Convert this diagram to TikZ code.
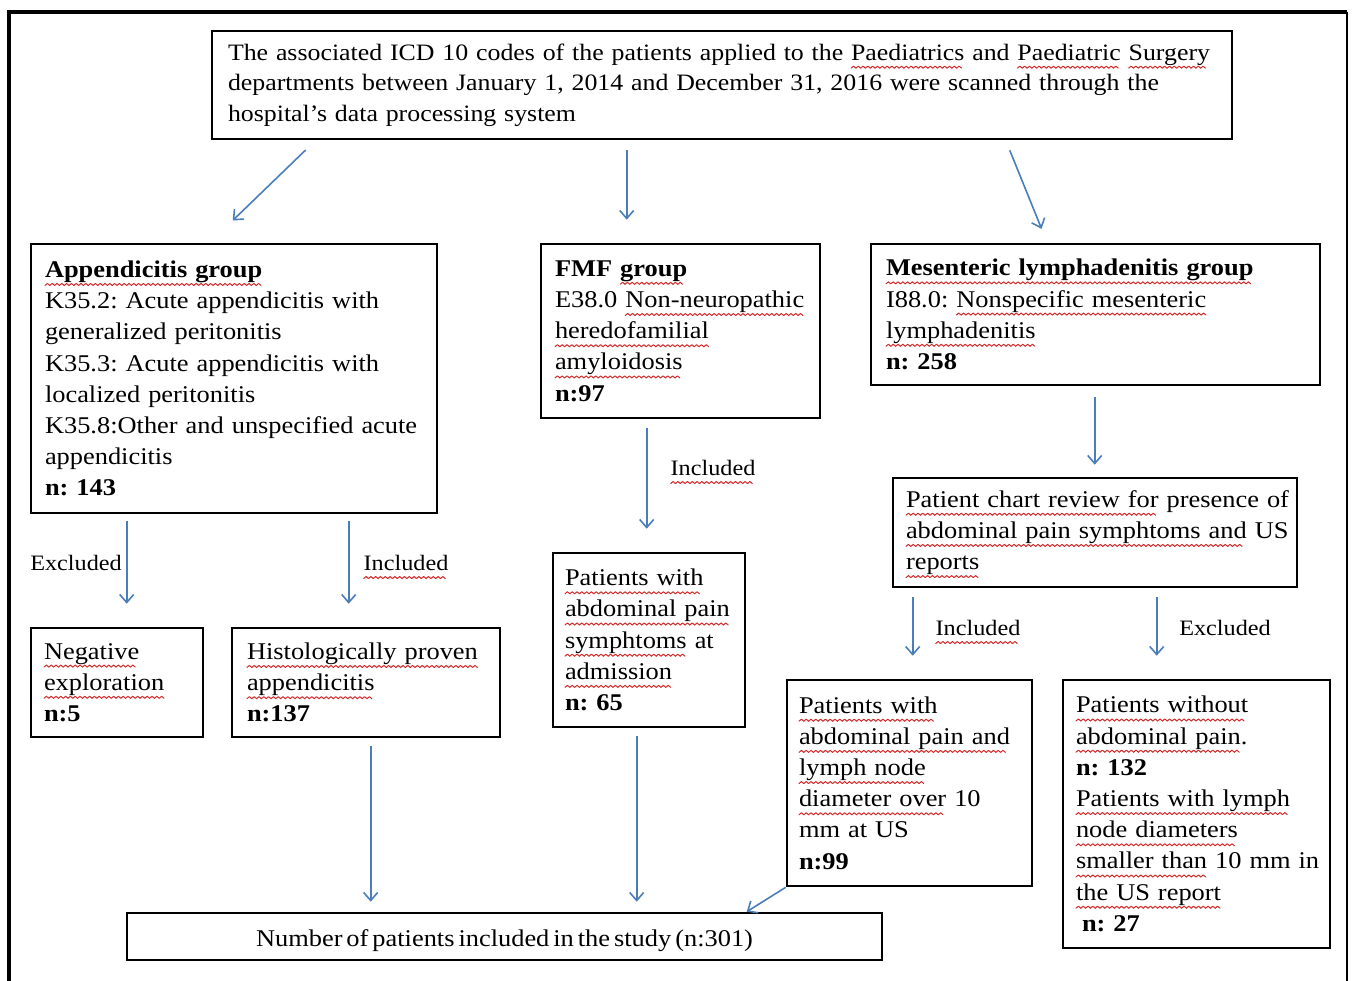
\documentclass[tikz,border=0pt]{standalone}
\usepackage{fontspec}
\setmainfont{Liberation Serif}[FakeStretch=1.1,WordSpace=0.6]
\usetikzlibrary{arrows.meta,calc}
\definecolor{arrblue}{HTML}{4A7EBB}
\definecolor{sqred}{HTML}{D42A2A}
\newcommand\rsk{\rightskip=-12pt plus 1fil\relax}
\newsavebox\wavebox
\newsavebox\sqtmp
\newcommand\sq[1]{\leavevmode\sbox\sqtmp{#1}\rlap{\raisebox{-4pt}[0pt][0pt]{\leaders\copy\wavebox\hskip\wd\sqtmp}}\usebox\sqtmp}
\begin{document}
\frenchspacing
\sbox\wavebox{\begin{pgfpicture}%
  \pgfpathrectanglecorners{\pgfpoint{0pt}{0pt}}{\pgfpoint{2.4pt}{0pt}}%
  \pgfusepath{use as bounding box}%
  \pgfsetlinewidth{0.5pt}\pgfsetstrokecolor{sqred}%
  \pgfsetroundcap\pgfsetroundjoin
  \pgfpathmoveto{\pgfpoint{0pt}{0pt}}%
  \pgfpathlineto{\pgfpoint{1.2pt}{1pt}}%
  \pgfpathlineto{\pgfpoint{2.4pt}{0pt}}%
  \pgfusepath{stroke}%
\end{pgfpicture}}%
\begin{tikzpicture}[x=0.5pt,y=-0.5pt,
  box/.style={draw=black, line width=1.3pt, inner ysep=0pt, align=left,
    font=\fontsize{12}{15.6}\selectfont\frenchspacing},
  arr/.style={draw=arrblue, line width=0.8pt,
    -{Straight Barb[length=4pt,width=7pt,line width=0.8pt]}},
  lbl/.style={font=\fontsize{11}{13}\selectfont, inner sep=0pt}]
\useasboundingbox (0,0) rectangle (1352,980);
% outer frame
\draw[line width=2pt] (9,990) -- (9,12) -- (1347,12);
\draw[line width=1pt] (1347,12) -- (1347,990);

\node[box, font=\fontsize{11.75}{15.3}\selectfont\frenchspacing, inner xsep=8pt, minimum width=510pt, minimum height=54pt, text width=494pt] (top) at (722,85)
 {\rsk The associated ICD 10 codes of the patients applied to the \sq{Paediatrics} and \sq{Paediatric} \sq{Surgery}\\
  departments between January 1, 2014 and December 31, 2016 were scanned through the\\
  hospital’s data processing system};

\node[box, inner xsep=7pt, minimum width=203pt, minimum height=134.5pt, text width=189pt] (app) at (234,378.5)
 {\rsk\textbf{\sq{Appendicitis group}}\\
  K35.2: Acute appendicitis with\\
  generalized peritonitis\\
  K35.3: Acute appendicitis with\\
  localized peritonitis\\
  K35.8:Other and unspecified acute\\
  appendicitis\\
  \textbf{n: 143}};

\node[box, inner xsep=7pt, minimum width=139.5pt, minimum height=87pt, text width=125.5pt] (fmf) at (680.5,331)
 {\rsk\textbf{FMF \sq{group}}\\
  E38.0 \sq{Non-neuropathic}\\
  \sq{heredofamilial}\\
  \sq{amyloidosis}\\
  \textbf{n:97}};

\node[box, inner xsep=7.5pt, minimum width=224.5pt, minimum height=70.5pt, text width=209.5pt] (mes) at (1095.5,314.5)
 {\rsk\textbf{\sq{Mesenteric lymphadenitis group}}\\
  I88.0: \sq{Nonspecific mesenteric}\\
  \sq{lymphadenitis}\\
  \textbf{n: 258}};

\node[box, inner xsep=6.5pt, minimum width=202pt, minimum height=54.5pt, text width=189pt] (chart) at (1095,532.5)
 {\rsk\sq{Patient chart review for} presence of\\
  \sq{abdominal pain symphtoms and} US\\
  \sq{reports}};

\node[box, inner xsep=6.5pt, minimum width=86pt, minimum height=54.5pt, text width=73pt] (neg) at (117,682.5)
 {\rsk\sq{Negative}\\
  \sq{exploration}\\
  \textbf{n:5}};

\node[box, inner xsep=7.5pt, minimum width=134pt, minimum height=54.5pt, text width=119pt] (hist) at (366,682.5)
 {\rsk\sq{Histologically proven}\\
  \sq{appendicitis}\\
  \textbf{n:137}};

\node[box, inner xsep=6pt, minimum width=96pt, minimum height=87pt, text width=84pt] (fpat) at (649,640)
 {\rsk\sq{Patients with}\\
  \sq{abdominal pain}\\
  \sq{symphtoms} at\\
  \sq{admission}\\
  \textbf{n: 65}};

\node[box, inner xsep=6pt, minimum width=122.5pt, minimum height=103pt, text width=110.5pt] (lymph) at (909.5,783)
 {\rsk\sq{Patients with}\\
  \sq{abdominal pain and}\\
  \sq{lymph node}\\
  \sq{diameter over} 10\\
  mm at US\\
  \textbf{n:99}};

\node[box, inner xsep=6.5pt, minimum width=133.5pt, minimum height=134pt, text width=120.5pt] (excl) at (1196.5,814)
 {\rsk\sq{Patients without}\\
  \sq{abdominal pain}.\\
  \textbf{n: 132}\\
  \sq{Patients with lymph}\\
  \sq{node diameters}\\
  \sq{smaller than} 10 mm in\\
  \sq{the US report}\\
  \hspace*{3pt}\textbf{n: 27}};

\node[box, align=center, inner xsep=4pt, minimum width=377.5pt, minimum height=23.5pt, text height=10pt, text depth=0.5pt] (num) at (504.5,936.5)
 {Number of patients included in the study (n:301)};

% arrows
\draw[arr, shorten <=7pt, shorten >=16pt] ($(top.south west)+(105,0)$) -- ($(app.north west)+(180,0)$);
\draw[arr, shorten <=5pt, shorten >=11.5pt] ($(top.south west)+(416,0)$) -- ($(fmf.north west)+(87,0)$);
\draw[arr, shorten <=5.4pt, shorten >=7.5pt] ($(top.south west)+(795,0)$) -- ($(mes.north west)+(177.5,0)$);

\draw[arr, shorten <=3.5pt, shorten >=11.5pt] ($(app.south west)+(97,0)$) -- ($(neg.north west)+(97,0)$);
\draw[arr, shorten <=3.5pt, shorten >=11.5pt] ($(app.south west)+(319,0)$) -- ($(hist.north west)+(118,0)$);
\draw[arr, shorten <=4.5pt, shorten >=11.5pt] ($(fmf.south west)+(107,0)$) -- ($(fpat.north west)+(95,0)$);
\draw[arr, shorten <=5.5pt, shorten >=6pt] ($(mes.south west)+(225,0)$) -- ($(chart.north west)+(203,0)$);
\draw[arr, shorten <=4.5pt, shorten >=11.5pt] ($(chart.south west)+(21,0)$) -- ($(lymph.north west)+(127,0)$);
\draw[arr, shorten <=4.5pt, shorten >=11.5pt] ($(chart.south west)+(265,0)$) -- ($(excl.north west)+(95,0)$);
\draw[arr, shorten <=4pt, shorten >=5pt] ($(hist.south west)+(140,0)$) -- ($(num.north west)+(245,0)$);
\draw[arr, shorten <=4pt, shorten >=5pt] ($(fpat.south west)+(85,0)$) -- ($(num.north west)+(511,0)$);
\draw[arr] (lymph.south west) -- ($(num.north west)+(621,0)$);

% labels
\node[lbl] (l1) at (76,563) {Excluded};
\node[lbl] (l2) at (406,563) {\sq{Included}};
\node[lbl] (l3) at (713,468) {\sq{Included}};
\node[lbl] (l4) at (978,628) {\sq{Included}};
\node[lbl] (l5) at (1225,628) {Excluded};
\end{tikzpicture}
\end{document}
